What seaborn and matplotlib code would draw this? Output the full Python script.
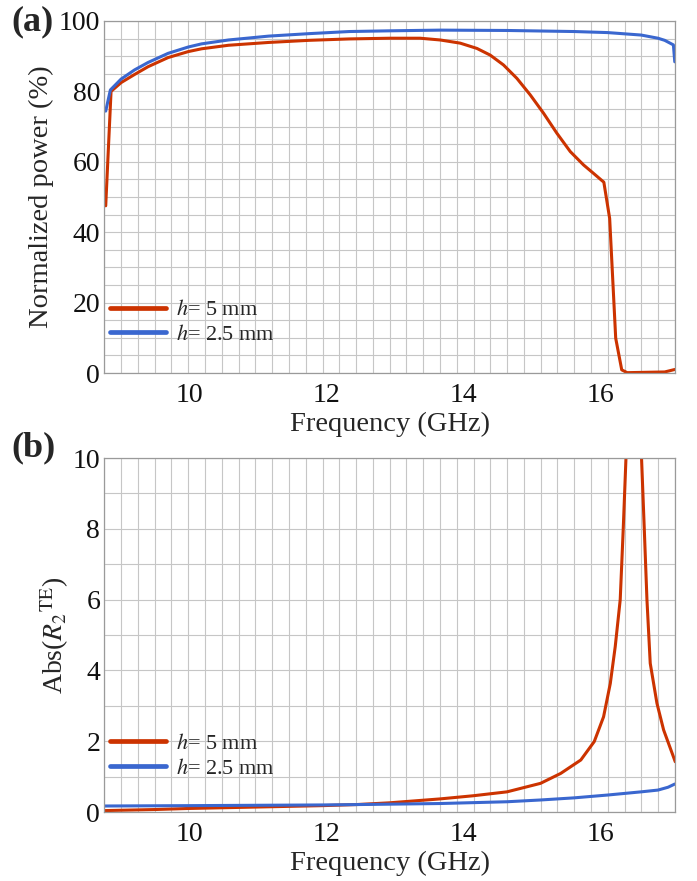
import matplotlib
matplotlib.use("Agg")
import matplotlib.pyplot as plt
import seaborn as sns
import numpy as np
import pandas as pd
from matplotlib.ticker import MultipleLocator, FixedLocator

# (a) normalized power, h = 5 mm
freq_a_h5 = [8.783, 8.861, 9.008, 9.204, 9.400, 9.693, 9.987, 10.183, 10.575,
             11.162, 11.750, 12.337, 12.925, 13.372, 13.664, 13.956, 14.200,
             14.394, 14.588, 14.783, 14.978, 15.172, 15.367, 15.562, 15.756,
             15.902, 16.052, 16.137, 16.225, 16.313, 16.392, 16.940, 17.087]
power_h5 = [47.5, 80.0, 82.5, 84.8, 87.0, 89.6, 91.3, 92.1, 93.1,
            93.9, 94.5, 94.9, 95.1, 95.1, 94.6, 93.7, 92.2,
            90.3, 87.5, 83.7, 79.0, 73.8, 68.1, 62.9, 59.1,
            56.7, 54.2, 43.9, 9.9, 0.9, 0.1, 0.3, 1.0]

# (a) normalized power, h = 2.5 mm
freq_a_h25 = [8.783, 8.851, 9.008, 9.204, 9.400, 9.693, 9.987, 10.183, 10.575,
              11.162, 11.750, 12.337, 12.925, 13.660, 14.639, 15.618, 16.108,
              16.597, 16.842, 16.940, 17.067, 17.087]
power_h25 = [74.4, 80.4, 83.5, 86.1, 88.2, 90.8, 92.6, 93.5, 94.6,
             95.7, 96.4, 97.0, 97.2, 97.4, 97.3, 97.0, 96.7,
             96.0, 95.1, 94.5, 93.2, 88.4]

# (b) Abs(R2 TE), h = 5 mm
freq_b_h5 = [8.763, 9.497, 9.987, 10.966, 11.946, 12.435, 12.925, 13.660, 14.149,
             14.639, 15.128, 15.422, 15.716, 15.912, 16.048, 16.146, 16.218,
             16.291, 16.335, 16.375, 16.41, 16.44, 16.488, 16.53, 16.56, 16.602,
             16.642, 16.681, 16.729, 16.827, 16.924, 17.094]
abs_r_h5 = [0.04, 0.07, 0.10, 0.14, 0.18, 0.21, 0.26, 0.37, 0.46,
            0.57, 0.81, 1.09, 1.47, 1.99, 2.69, 3.63, 4.67,
            6.0, 8.0, 10.0, 14.0, 24.0, 35.0, 24.0, 15.0, 10.0,
            8.0, 6.0, 4.2, 3.07, 2.32, 1.42]

# (b) Abs(R2 TE), h = 2.5 mm
freq_b_h25 = [8.763, 9.987, 10.966, 11.946, 12.435, 13.660, 14.639, 15.128,
              15.618, 16.108, 16.597, 16.842, 16.989, 17.087]
abs_r_h25 = [0.17, 0.18, 0.19, 0.20, 0.21, 0.24, 0.29, 0.34,
             0.40, 0.48, 0.57, 0.62, 0.70, 0.79]

labels = ['$\\mathit{h}$= 5 mm', '$\\mathit{h}$= 2.5 mm']
colors = ['#cc3300', '#3a67cf']
x_min, x_max = 8.763, 17.09

sns.set_theme(style='white')
plt.rcParams['font.family'] = ['Liberation Serif', 'DejaVu Serif']
plt.rcParams['mathtext.fontset'] = 'stix'

fig = plt.figure(figsize=(6.97, 8.81), dpi=100)
ax_a = fig.add_axes([0.1497, 0.5766, 0.8187, 0.3996])
ax_b = fig.add_axes([0.1497, 0.0783, 0.8187, 0.4018])


def style_axis(ax, ymax, ystep, ygrid):
    ax.set_xlim(x_min, x_max)
    ax.set_ylim(0, ymax)
    ax.xaxis.set_major_locator(MultipleLocator(2))
    # frame is split into 34 equal grid cells horizontally
    ax.xaxis.set_minor_locator(FixedLocator(np.linspace(x_min, x_max, 35)))
    ax.yaxis.set_major_locator(MultipleLocator(ystep))
    ax.yaxis.set_minor_locator(MultipleLocator(ygrid))
    ax.grid(False, which='major', axis='x')
    ax.grid(True, which='minor', axis='x', color='#c6c6c6', linewidth=0.8)
    ax.grid(True, which='both', axis='y', color='#c6c6c6', linewidth=0.8)
    ax.set_axisbelow(True)
    for sp in ax.spines.values():
        sp.set_color('#9a9a9a')
        sp.set_linewidth(0.9)
    ax.tick_params(axis='both', which='both', length=0, labelsize=20,
                   colors='#111111')
    ax.tick_params(axis='x', pad=7)
    ax.tick_params(axis='y', pad=3)
    ax.set_xlabel('Frequency (GHz)', fontsize=20.5, labelpad=3)


# panel (a)
df_a = pd.concat([
    pd.DataFrame({'f': freq_a_h5, 'v': power_h5, 'h': labels[0]}),
    pd.DataFrame({'f': freq_a_h25, 'v': power_h25, 'h': labels[1]}),
])
sns.lineplot(data=df_a, x='f', y='v', hue='h', palette=colors, linewidth=2.2,
             sort=False, estimator=None, ax=ax_a)
style_axis(ax_a, 100, 20, 5)
ax_a.set_ylabel('Normalized power (%)', fontsize=20.5)
ax_a.yaxis.set_label_coords(-0.088, 0.5)

# panel (b)
df_b = pd.concat([
    pd.DataFrame({'f': freq_b_h5, 'v': abs_r_h5, 'h': labels[0]}),
    pd.DataFrame({'f': freq_b_h25, 'v': abs_r_h25, 'h': labels[1]}),
])
sns.lineplot(data=df_b, x='f', y='v', hue='h', palette=colors, linewidth=2.2,
             sort=False, estimator=None, ax=ax_b)
style_axis(ax_b, 10, 2, 1)
ax_b.set_ylabel('Abs(${R_2}^{\\mathrm{TE}}$)', fontsize=20)
ax_b.yaxis.set_label_coords(-0.058, 0.5)

for ax, yc in [(ax_a, 0.1435), (ax_b, 0.158)]:
    leg = ax.legend(loc='center left', bbox_to_anchor=(0.003, yc), frameon=False,
                    fontsize=16, handlelength=2.5, handletextpad=0.45,
                    labelspacing=0.18, borderpad=0.2, borderaxespad=0.0)
    for line in leg.get_lines():
        line.set_linewidth(3.4)

fig.text(0.016, 1 - 30 / 881, '(a)', fontsize=26, fontweight='bold')
fig.text(0.016, 1 - 456 / 881, '(b)', fontsize=26, fontweight='bold')

fig.savefig('out.png', dpi=100)
